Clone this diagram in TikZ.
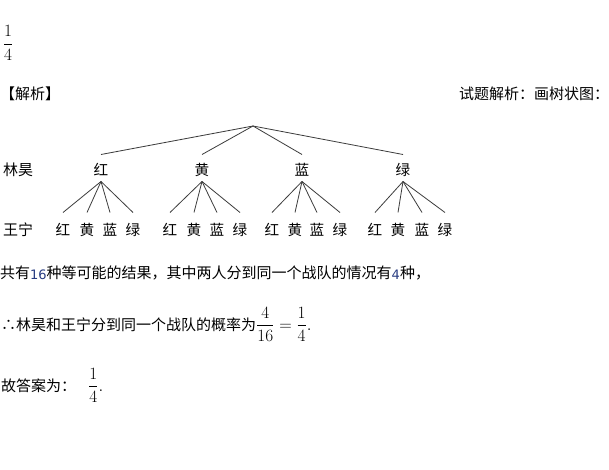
\documentclass[tikz,border=0pt]{standalone}
\usepackage{amsmath}
\usepackage{fontspec}
\setmainfont{Liberation Serif}
\newfontfamily\cjk{Noto Sans CJK SC}
\newfontfamily\numfont{DejaVu Sans}
\definecolor{numblue}{RGB}{40,60,130}
\definecolor{treeline}{RGB}{60,60,60}
\newcommand{\bluenum}[1]{\textcolor{numblue}{\raisebox{-1.5pt}{\numfont\fontsize{13}{15}\selectfont #1}}}
\newcommand{\bigmath}[1]{{\fontsize{16}{18}\selectfont$#1$}}
\begin{document}
\begin{tikzpicture}[x=1pt,y=-1pt,
  txt/.style={inner sep=0pt, anchor=base west, font=\fontsize{15}{17}\selectfont\cjk},
  lbl/.style={inner sep=0pt, anchor=base, font=\fontsize{14.6}{17}\selectfont\cjk},
  frac/.style={inner sep=0pt, font=\fontsize{16}{18}\selectfont},
  branch/.style={draw=treeline, line width=0.8pt}]
\fill[white] (0,0) rectangle (609,470);
\useasboundingbox (0,0) rectangle (609,470);

% answer at top
\node[frac] (ans) at (8,43) {$\dfrac{1}{4}$};

% headings
\node[txt] (jx) at (0,99.5) {【解析】};
\node[txt] (st) at (459,99.5) {试题解析：画树状图：};

% tree
\coordinate (root) at (253,126);
\node[txt] (p1) at (3,175.5) {林昊};
\node[txt] (p2) at (3,235.5) {王宁};

\node[lbl] (a1) at (101,175.5) {红};
\node[lbl] (a2) at (202,175.5) {黄};
\node[lbl] (a3) at (302,175.5) {蓝};
\node[lbl] (a4) at (403,175.5) {绿};

\foreach \i in {1,...,4}{
  \draw[branch] (root) -- ([yshift=21pt]a\i.base);
}

\foreach \g/\xa/\xb/\xc/\xd in {1/63/87/110/133, 2/170/194/217/240, 3/272/295/317/340, 4/375/398/422/445}{
  \node[lbl] (b\g1) at (\xa,235.5) {红};
  \node[lbl] (b\g2) at (\xb,235.5) {黄};
  \node[lbl] (b\g3) at (\xc,235.5) {蓝};
  \node[lbl] (b\g4) at (\xd,235.5) {绿};
  \foreach \k in {1,...,4}{
    \draw[branch] ([yshift=-6pt]a\g.base) -- ([yshift=23pt]b\g\k.base);
  }
}

% explanation
\node[txt] (l1) at (0,278) {共有\bluenum{16}种等可能的结果，其中两人分到同一个战队的情况有\bluenum{4}种，};
\node[txt] (l2) at (1,330) {∴林昊和王宁分到同一个战队的概率为\bigmath{\dfrac{4}{16}=\dfrac{1}{4}.}};
\node[txt] (l3) at (1,391) {故答案为：\hspace{12pt}\bigmath{\dfrac{1}{4}.}};
\end{tikzpicture}
\end{document}
